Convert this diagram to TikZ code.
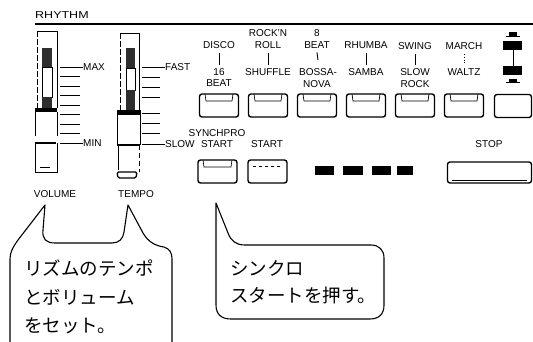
\documentclass[tikz,border=0pt]{standalone}
\usepackage{fontspec}
\setmainfont{Liberation Sans}
\newfontfamily\jpfont{Noto Sans CJK JP}
\begin{document}
\begin{tikzpicture}[x=1pt,y=-1pt,
  lbl/.style={font=\fontsize{10}{10}\selectfont, inner sep=0pt, text height=7.2pt, text depth=0pt},
  btn/.style={draw, line width=1.4pt, rounded corners=2.5pt, fill=white, inner sep=0pt},
  tab/.style={line width=0.7pt},
  tick/.style={line width=0.9pt},
  dark/.style={fill=black!82},
  frameline/.style={line width=0.8pt},
  callout/.style={line width=1.1pt, line join=round, line cap=round},
  jp/.style={font=\jpfont\fontsize{18.5}{18.5}\selectfont, anchor=base west, inner sep=0pt}]
\useasboundingbox (0,0) rectangle (533,342);

% header
\node[lbl, anchor=west] (rhythm) at (35,15) {\scalebox{1.25}[1]{RHYTHM}};
\draw[line width=1.2pt] (35,24) -- (533,24);

% ---------- VOLUME slider ----------
\draw[frameline, dash pattern=on 6pt off 2pt] (37,31) -- (37,108);
\draw[frameline] (37,31) -- (57,31);
\draw[line width=1pt] (57,31) -- (57,108);
\fill[dark] (42,48) rectangle (52,67);
\draw[line width=0.6pt] (42,67) rectangle (52,97);
\fill[dark] (42,97) rectangle (52,110);
\fill[black] (35,108) rectangle (57,112);
\draw[line width=1pt] (35,112) -- (35,136);
\draw[line width=1pt] (57,112) -- (57,136);
\draw[line width=1pt] (35,143) -- (35,173) -- (57,173) -- (57,143);
\draw[line width=2pt] (35,143) -- (56,143);
\draw[line width=0.6pt] (40,167) -- (50,167);
\foreach \y in {76.5,86,95.5,105,114.5,124,133.5}
  \draw[tick] (60,\y) -- (80,\y);
\node[lbl, anchor=west] (max) at (83,67) {MAX};
\node[lbl, anchor=west] (min) at (83,143) {MIN};
\draw[tick] (60,67) -- (max.west);
\draw[tick] (60,143) -- (min.west);
\node[lbl] (volume) at (55,194) {VOLUME};

% ---------- TEMPO slider ----------
\draw[frameline, dash pattern=on 6pt off 2pt] (120,33) -- (120,110);
\draw[frameline] (120,33) -- (139,33);
\draw[line width=1pt] (139,33) -- (139,110);
\fill[dark] (126,48) rectangle (135,68);
\draw[line width=0.6pt] (126,68) rectangle (135,90);
\fill[dark] (126,90) rectangle (135,110);
\fill[black] (117,110) rectangle (141,115);
\draw[line width=1pt] (117,115) -- (117,145);
\draw[line width=1pt] (140,115) -- (140,145);
\draw[line width=2pt] (117,145) -- (140,145);
\draw[line width=1pt] (118,145) -- (118,170);
\draw[frameline, dash pattern=on 5pt off 3pt] (139,145) -- (139,172);
\draw[line width=1.3pt, rounded corners=1.5pt] (117,172) -- (118,178) -- (136,178) -- (137,172) -- cycle;
\foreach \y in {77,87,97,113,123,133}
  \draw[tick] (142,\y) -- (160,\y);
\node[lbl, anchor=west] (fast) at (165,67) {FAST};
\node[lbl, anchor=west] (slow) at (165,144) {SLOW};
\draw[tick] (142,67) -- (fast.west);
\draw[tick] (142,144) -- (slow.west);
\node[lbl] (tempo) at (136,194) {TEMPO};

% ---------- top row buttons ----------
\foreach \n/\x in {b1/219,b2/268,b3/317,b4/366,b5/415,b6/464}{
  \node[btn, minimum width=39pt, minimum height=23pt] (\n) at (\x,105.5) {};
  \draw[tab] (\x-14,94) -- (\x-13,101) -- (\x+13,101) -- (\x+14,94);
}
\node[btn, minimum width=37pt, minimum height=23pt] (b7) at (513,106) {};

% labels
\node[lbl] (disco) at (219,45) {DISCO};
\node[lbl] (sixteen) at (219,72) {16};
\node[lbl] (beatA) at (219,83) {BEAT};
\draw[tick] ([yshift=-4pt]disco.south) -- ([yshift=3.5pt]sixteen.north);

\node[lbl] (rock) at (268,33) {ROCK'N};
\node[lbl] (roll) at (268,45) {ROLL};
\node[lbl] (shuffle) at (268,72) {SHUFFLE};
\draw[tick] ([yshift=-4pt]roll.south) -- ([yshift=3.5pt]shuffle.north);

\node[lbl] (eight) at (317,33) {8};
\node[lbl] (beatC) at (317,45) {BEAT};
\node[lbl] (bossa) at (318,72) {BOSSA-};
\node[lbl] (nova) at (317,84) {NOVA};
\draw[tick] ([yshift=-3.5pt]beatC.south) -- ([yshift=8pt]bossa.north);

\node[lbl] (rhumba) at (366,45) {RHUMBA};
\node[lbl] (samba) at (366,72) {SAMBA};
\draw[tick] ([yshift=-4pt]rhumba.south) -- ([yshift=3.5pt]samba.north);

\node[lbl] (swing) at (415,46) {SWING};
\node[lbl] (slowr) at (415,72) {SLOW};
\node[lbl] (rockr) at (415,84) {ROCK};
\draw[tick] ([yshift=-4pt]swing.south) -- ([yshift=3.5pt]slowr.north);

\node[lbl] (march) at (464,46) {MARCH};
\node[lbl] (waltz) at (464,72) {WALTZ};
\draw[tick, dotted] ([yshift=-4pt]march.south) -- ([yshift=5pt]waltz.north);

% variation symbols
\fill (509,32) rectangle (517,36);
\draw[line width=1pt] (506,37) -- (520,37);
\fill (503,41) rectangle (522,50);
\draw[tick] (513,50) -- (513,66);
\fill (503,66) rectangle (522,75);
\fill (509,79) rectangle (517,83);
\draw[line width=1pt] (506,83) -- (520,83);

% ---------- second row ----------
\node[lbl] (synchro) at (217,133) {SYNCHPRO};
\node[lbl] (startA) at (217,144) {START};
\node[lbl] (startB) at (267,144) {START};
\node[lbl] (stop) at (489,144) {STOP};
\node[btn, minimum width=39pt, minimum height=23pt] (sbtn) at (217.5,171.5) {};
\draw[tab] (203,160) -- (204,167) -- (231,167) -- (232,160);
\node[btn, minimum width=39pt, minimum height=23pt] (stbtn) at (267.5,171.5) {};
\draw[tab, dashed] (253,166) -- (282,166);
\node[btn, minimum width=84pt, minimum height=21pt] (stopbtn) at (489.5,172.5) {};
\draw[tab] (452,180) -- (527,180);
\fill (315,166) rectangle (334,175);
\fill (343,166) rectangle (363,175);
\fill (372,166) rectangle (391,175);
\fill (397,166) rectangle (413,175);

% ---------- callouts ----------
\coordinate (tipV) at (45,205);
\coordinate (tipT) at (128,205);
\coordinate (tipS) at (216,203);
\draw[callout] (10,342) -- (10,259) .. controls (10,252) and (13,247) .. (18,240) -- (tipV)
  -- (43,230) .. controls (42,239) and (46,243) .. (55,243) -- (112,243)
  .. controls (119,243) and (123,239) .. (124,232) -- (tipT)
  -- (143,233) .. controls (148,242) and (156,246) .. (164,247)
  .. controls (170,249) and (172,253) .. (172,259) -- (172,342);
\draw[callout] (tipS) -- (216,305) .. controls (216,314) and (221,319) .. (231,319)
  -- (370,319) .. controls (379,319) and (384,314) .. (384,305)
  -- (384,258) .. controls (384,250) and (379,245) .. (371,245)
  -- (245,245) .. controls (236,245) and (231,241) .. (228,233) -- cycle;

\node[jp] (l1) at (24,275) {リズムのテンポ};
\node[jp] (l2) at (24,304) {とボリューム};
\node[jp] (l3) at (24,332) {をセット。};
\node[jp] (r1) at (230,275) {シンクロ};
\node[jp] (r2) at (230,302) {スタートを押す。};
\end{tikzpicture}
\end{document}
